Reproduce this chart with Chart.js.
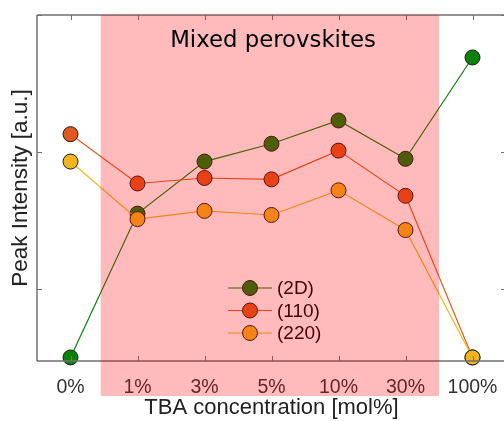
<!DOCTYPE html>
<html>
<head>
<meta charset="utf-8">
<script src="https://cdn.jsdelivr.net/npm/chart.js@4.4.0/dist/chart.umd.min.js"></script>
<style>
    html, body { margin: 0; padding: 0; background: #fff; overflow: hidden; }
    #wrap { position: absolute; left: 0; top: 0; width: 506px; height: 421px; }
</style>
</head>
<body>
<div id="wrap"><canvas id="myChart" width="506" height="421"></canvas></div>
<script>
var concentrazioni = ['0%', '1%', '3%', '5%', '10%', '30%', '100%'];
var serie2D  = [0.50, 1.55, 1.93, 2.06, 2.23, 1.95, 2.69];
var serie110 = [2.13, 1.77, 1.81, 1.80, 2.01, 1.68, 0.50];
var serie220 = [1.93, 1.51, 1.57, 1.54, 1.72, 1.43, 0.50];
var nomiSerie = ['(2D)', '(110)', '(220)'];
var coloriSerie = ['#0b800b', '#e2591f', '#f2b51e'];
var yTicks = [1, 2, 3];
var zonaMista = [0.45, 5.5];

var ctx = document.getElementById('myChart');

// ordine: la serie con order piu' basso viene disegnata sopra
function dataset(label, data, colore, ordine){
    return {
        label: label,
        data: data,
        order: ordine,
        borderColor: colore,
        backgroundColor: colore,
        pointBackgroundColor: colore,
        pointBorderColor: '#1a1a1a',
        pointBorderWidth: 1,
        pointRadius: 7.5,
        pointHoverRadius: 7.5,
        borderWidth: 1.2,
        clip: false
    };
}

var cornice = {
    id: 'cornice',
    afterDatasetsDraw: function(chart){
        var c = chart.ctx, a = chart.chartArea;
        var x = chart.scales.x, y = chart.scales.y;
        c.save();
        c.strokeStyle = '#707070';
        c.lineWidth = 1.5;
        c.beginPath();
        c.moveTo(a.left, a.top); c.lineTo(a.right, a.top);
        c.moveTo(a.left, a.top); c.lineTo(a.left, a.bottom);
        c.moveTo(a.left, a.bottom); c.lineTo(a.right, a.bottom);
        c.moveTo(a.right, a.top); c.lineTo(a.right, a.bottom);
        c.stroke();
        c.lineWidth = 1;
        c.beginPath();
        for (var i = 0; i < concentrazioni.length; i++) {
            var px = Math.round(x.getPixelForValue(i)) + 0.5;
            c.moveTo(px, a.bottom); c.lineTo(px, a.bottom - 5);
            c.moveTo(px, a.top); c.lineTo(px, a.top + 5);
        }
        for (var j = 0; j < yTicks.length; j++) {
            var py = Math.round(y.getPixelForValue(yTicks[j])) + 0.5;
            c.moveTo(a.left, py); c.lineTo(a.left + 5, py);
            c.moveTo(a.right, py); c.lineTo(a.right - 5, py);
        }
        c.stroke();

        // legenda
        for (var k = 0; k < nomiSerie.length; k++) {
            var ly = 288 + k * 22.5;
            c.strokeStyle = coloriSerie[k];
            c.lineWidth = 1.2;
            c.beginPath();
            c.moveTo(228, ly); c.lineTo(272, ly);
            c.stroke();
            c.beginPath();
            c.arc(250, ly, 7.5, 0, Math.PI * 2);
            c.fillStyle = coloriSerie[k];
            c.fill();
            c.lineWidth = 1;
            c.strokeStyle = '#1a1a1a';
            c.stroke();
            c.fillStyle = '#000';
            c.font = '19px "Liberation Sans", Arial, sans-serif';
            c.textBaseline = 'middle';
            c.textAlign = 'left';
            c.fillText(nomiSerie[k], 277, ly + 1);
        }
        c.restore();
    },
    afterDraw: function(chart){
        var c = chart.ctx, a = chart.chartArea;
        var x = chart.scales.x;
        var x0 = x.getPixelForValue(zonaMista[0]);
        var x1 = x.getPixelForValue(zonaMista[1]);
        c.save();
        c.fillStyle = 'rgba(255, 0, 0, 0.265)';
        c.fillRect(x0, a.top, x1 - x0, 396 - a.top);
        c.fillStyle = '#000';
        c.font = '22.8px "DejaVu Sans", sans-serif';
        c.textAlign = 'center';
        c.textBaseline = 'middle';
        c.fillText('Mixed perovskites', 273, 41);
        c.restore();
    }
};

var chart = new Chart(ctx, {
    type: 'line',
    data: {
        labels: concentrazioni,
        datasets: [
            dataset(nomiSerie[0], serie2D, coloriSerie[0], 2),
            dataset(nomiSerie[1], serie110, coloriSerie[1], 1),
            dataset(nomiSerie[2], serie220, coloriSerie[2], 0)
        ]
    },
    options: {
        responsive: false,
        animation: false,
        layout: { autoPadding: false, padding: { top: 15, right: 0, left: 0, bottom: 0 } },
        plugins: {
            legend: { display: false },
            tooltip: { enabled: false }
        },
        scales: {
            x: {
                offset: true,
                grid: { display: false },
                border: { display: false },
                ticks: {
                    color: '#333',
                    font: { family: '"Liberation Sans", Arial, sans-serif', size: 19.5 },
                    padding: 7,
                    maxRotation: 0
                },
                title: {
                    display: true,
                    text: 'TBA concentration [mol%]',
                    color: '#222',
                    font: { family: '"Liberation Sans", Arial, sans-serif', size: 22 },
                    padding: { top: 0, bottom: 0 }
                },
                afterFit: function(s){
                    s.height = 60;
                    s.paddingLeft = 0;
                    s.paddingRight = 0;
                }
            },
            y: {
                min: 0.474,
                max: 3.0,
                afterBuildTicks: function(s){ s.ticks = yTicks.map(function(v){ return { value: v }; }); },
                grid: { display: false },
                border: { display: false },
                ticks: { display: false },
                title: {
                    display: true,
                    text: 'Peak Intensity [a.u.]',
                    color: '#222',
                    font: { family: '"Liberation Sans", Arial, sans-serif', size: 22.5 },
                    padding: { top: 7, bottom: 0 }
                },
                afterFit: function(s){ s.width = 37; }
            }
        }
    },
    plugins: [cornice]
});
</script>
</body>
</html>
